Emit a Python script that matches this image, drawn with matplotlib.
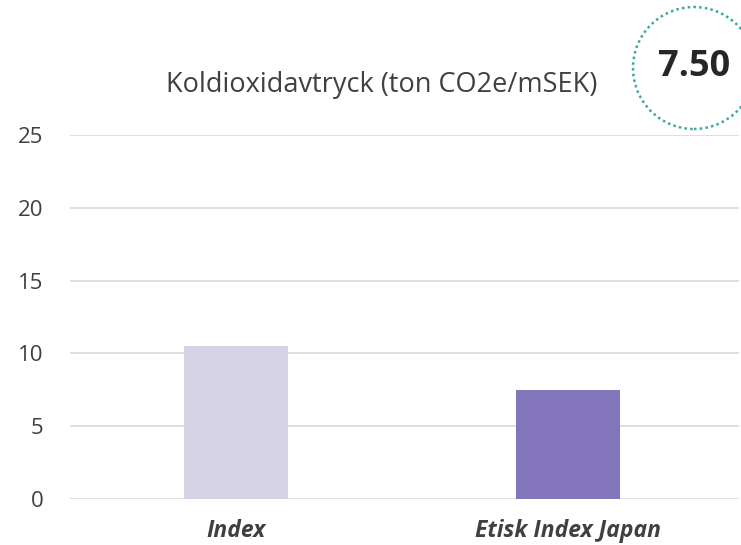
import matplotlib.pyplot as plt
from matplotlib.patches import Circle

categories = ['Index', 'Etisk Index Japan']
values = [10.5, 7.5]
colors = ['#d5d2e6', '#8275bc']
yticks = [0, 5, 10, 15, 20, 25]
title = 'Koldioxidavtryck (ton CO2e/mSEK)'
badge = '7.50'

plt.rcParams['font.family'] = ['Open Sans', 'DejaVu Sans']

fig = plt.figure(figsize=(7.41, 5.45), dpi=100)
ax = fig.add_axes([70/741, 1 - 499/545, 669/741, 364/545])

ax.bar(range(len(categories)), values, width=0.316, color=colors, zorder=3)
ax.set_xlim(-0.5, 1.515)
ax.set_ylim(0, 25)
ax.set_yticks(yticks)
ax.set_xticks(range(len(categories)))
ax.set_xticklabels(categories, fontsize=16.5, fontstyle='italic', fontweight='bold',
                   color='#404040', va='baseline')
ax.tick_params(axis='y', labelsize=16, labelcolor='#404040', length=0, pad=19)
ax.tick_params(axis='x', length=0, pad=27.5)
ax.grid(axis='y', color='#d9d9d9', linewidth=1.2, zorder=0)
for s in ax.spines.values():
    s.set_visible(False)

fig.text(382/741, 1 - 85/545, title, ha='center', va='center', fontsize=19.5, color='#404040')

circ = Circle((694/741 * 7.41, (1 - 68/545) * 5.45), 0.61, transform=fig.dpi_scale_trans,
              fill=False, edgecolor='#3aa8a0', linestyle=(0, (1, 1.3)), linewidth=1.8)
fig.add_artist(circ)
fig.text(694/741, 1 - 67/545, badge, ha='center', va='center', fontsize=26, fontweight='bold', color='#262626')

fig.savefig('out.png', dpi=100)
